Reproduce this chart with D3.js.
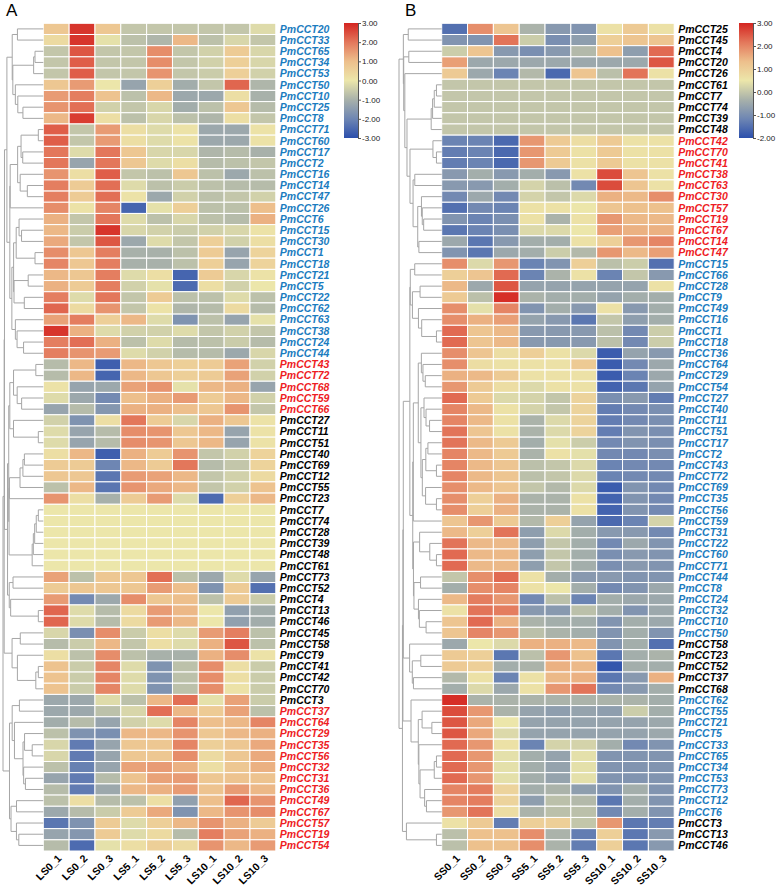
<!DOCTYPE html>
<html>
<head>
<meta charset="utf-8">
<script src="https://d3js.org/d3.v7.min.js"></script>
<style>
  body { margin: 0; background: #fff; }
  text { font-family: "Liberation Sans", Arial, sans-serif; }
</style>
</head>
<body>
<div id="chart"></div>
<script>
// samples (columns)
var colsA = ["LS0_1", "LS0_2", "LS0_3", "LS5_1", "LS5_2", "LS5_3", "LS10_1", "LS10_2", "LS10_3"];
var colsB = ["SS0_1", "SS0_2", "SS0_3", "SS5_1", "SS5_2", "SS5_3", "SS10_1", "SS10_2", "SS10_3"];

// genes (rows), in plotted order
var rowsA = ["PmCCT20","PmCCT33","PmCCT65","PmCCT34","PmCCT53","PmCCT50","PmCCT10","PmCCT25","PmCCT8","PmCCT71",
  "PmCCT60","PmCCT17","PmCCT2","PmCCT16","PmCCT14","PmCCT47","PmCCT26","PmCCT6","PmCCT15","PmCCT30",
  "PmCCT1","PmCCT18","PmCCT21","PmCCT5","PmCCT22","PmCCT62","PmCCT63","PmCCT38","PmCCT24","PmCCT44",
  "PmCCT43","PmCCT72","PmCCT68","PmCCT59","PmCCT66","PmCCT27","PmCCT11","PmCCT51","PmCCT40","PmCCT69",
  "PmCCT12","PmCCT55","PmCCT23","PmCCT7","PmCCT74","PmCCT28","PmCCT39","PmCCT48","PmCCT61","PmCCT73",
  "PmCCT52","PmCCT4","PmCCT13","PmCCT46","PmCCT45","PmCCT58","PmCCT9","PmCCT41","PmCCT42","PmCCT70",
  "PmCCT3","PmCCT37","PmCCT64","PmCCT29","PmCCT35","PmCCT56","PmCCT32","PmCCT31","PmCCT36","PmCCT49",
  "PmCCT67","PmCCT57","PmCCT19","PmCCT54"];
var rowsB = ["PmCCT25","PmCCT45","PmCCT4","PmCCT20","PmCCT26","PmCCT61","PmCCT7","PmCCT74","PmCCT39","PmCCT48",
  "PmCCT42","PmCCT70","PmCCT41","PmCCT38","PmCCT63","PmCCT30","PmCCT57","PmCCT19","PmCCT67","PmCCT14",
  "PmCCT47","PmCCT15","PmCCT66","PmCCT28","PmCCT9","PmCCT49","PmCCT16","PmCCT1","PmCCT18","PmCCT36",
  "PmCCT64","PmCCT29","PmCCT54","PmCCT27","PmCCT40","PmCCT11","PmCCT51","PmCCT17","PmCCT2","PmCCT43",
  "PmCCT72","PmCCT69","PmCCT35","PmCCT56","PmCCT59","PmCCT31","PmCCT22","PmCCT60","PmCCT71","PmCCT44",
  "PmCCT8","PmCCT24","PmCCT32","PmCCT10","PmCCT50","PmCCT58","PmCCT23","PmCCT52","PmCCT37","PmCCT68",
  "PmCCT62","PmCCT55","PmCCT21","PmCCT5","PmCCT33","PmCCT65","PmCCT34","PmCCT53","PmCCT73","PmCCT12",
  "PmCCT6","PmCCT3","PmCCT13","PmCCT46"];

// gene group of each row (1 = blue, 2 = red, 3 = black labels)
var groupA = ("111111111111111111111111111111" + "22222" +
  "33333333333333333333333333" + "2222222222222").split("").map(Number);
var groupB = ("3333333333" + "22222222222" + "1111111111111111111111111111111111" +
  "33333" + "11111111111" + "333").split("").map(Number);

// colour-bar ticks
var ticksA = [3, 2, 1, 0, -1, -2, -3];
var ticksB = [3, 2, 1, 0, -1, -2];

// expression values (z-score), one row per gene
var valuesA = [
  [0.8,2.8,0.8,-0.6,-0.6,-0.6,-0.6,-0.6,-0.2],
  [0.3,2.8,-0.1,-0.7,-0.9,1.1,-0.7,-0.3,-0.6],
  [-0.6,2.4,-0.6,-0.6,1.7,-0.6,-0.4,0.7,-0.3],
  [-0.6,2.3,-0.6,-0.6,1.7,-0.6,-0.4,0.6,-0.3],
  [-0.6,2.3,-0.6,-0.6,1.6,-0.6,-0.5,0.6,-0.4],
  [0.8,1.5,0.0,-1.3,0.6,-1.1,-0.6,2.2,-0.9],
  [1.5,1.9,0.9,-0.7,1.1,-1.2,-1.2,0.2,-1.0],
  [1.6,2.1,-0.4,-0.6,-0.3,-1.1,-0.7,0.8,-0.8],
  [1.1,2.7,0.2,-0.7,-0.3,-0.7,-0.9,0.2,-0.6],
  [2.3,-0.6,1.5,0.2,-0.2,0.1,-1.2,-1.2,0.1],
  [2.3,-0.6,1.5,0.2,-0.2,0.1,-1.2,-1.2,0.1],
  [2.0,-0.2,2.0,0.8,-0.3,-0.3,-0.9,-0.8,-1.0],
  [2.0,-1.3,2.0,0.8,-0.2,0.2,-0.8,-0.7,-0.6],
  [1.6,0.2,2.3,-0.6,-0.7,0.8,-0.7,-1.2,-0.7],
  [1.9,0.7,2.1,-0.2,-0.7,-0.5,-0.7,-0.8,-0.8],
  [1.9,0.7,2.1,0.1,-1.2,-0.4,-0.7,-0.6,-0.4],
  [1.7,0.1,1.8,-2.6,-0.1,0.6,-0.7,-0.7,1.0],
  [1.2,-0.6,2.0,-0.2,-0.7,-0.3,-0.7,-0.8,1.2],
  [1.1,-0.5,2.8,-0.3,-0.4,-0.5,-0.4,-0.3,0.1],
  [1.3,-0.6,2.4,-1.2,-0.2,-0.6,0.6,-0.4,0.2],
  [1.7,0.8,1.9,-1.0,-1.0,-0.7,0.7,-1.3,0.5],
  [1.8,0.8,1.9,-1.0,-1.0,-0.7,0.6,-1.3,0.5],
  [1.1,0.8,1.9,-0.2,0.2,-2.6,0.7,-0.3,0.1],
  [1.2,0.7,1.9,-0.4,-0.1,-2.5,0.2,-0.4,0.0],
  [1.9,-0.2,2.0,-0.6,0.7,-0.7,-0.7,-0.2,-0.7],
  [2.2,0.3,1.6,-0.6,0.1,-0.9,-0.8,0.3,-0.8],
  [1.4,1.9,0.6,1.1,-0.2,-1.7,-0.7,-1.3,-0.1],
  [2.8,1.2,-0.2,-0.4,-0.4,-0.2,-0.6,-0.4,-0.6],
  [1.9,2.1,1.2,-0.7,-0.2,-0.8,-0.7,-0.5,-0.8],
  [1.9,1.6,1.5,-0.2,-0.4,-0.8,-0.8,-1.2,-0.3],
  [-0.8,1.1,-2.7,1.1,0.8,0.6,0.7,1.4,-0.4],
  [-0.8,1.1,-2.6,1.1,0.8,0.6,0.7,1.4,-0.4],
  [0.1,-1.3,-1.2,1.4,1.6,-0.1,1.1,1.2,-1.3],
  [-0.2,-1.2,-1.9,1.0,1.2,1.5,0.7,1.1,-0.4],
  [-1.3,-0.8,-1.6,1.2,1.2,1.0,0.8,1.6,-0.6],
  [-0.4,-1.7,0.2,2.0,0.7,-0.3,1.2,0.8,0.1],
  [-0.2,-1.3,-0.8,1.7,1.6,0.8,1.1,-1.3,0.1],
  [-0.2,-1.3,-0.8,1.7,1.6,0.8,1.1,-1.3,0.1],
  [0.2,1.1,-2.7,1.2,0.7,1.6,-0.6,-0.4,0.5],
  [0.7,0.7,-2.0,1.1,0.7,2.0,-0.8,-0.6,0.5],
  [0.8,0.8,-2.3,1.5,1.4,1.1,-0.6,-0.4,0.3],
  [-0.7,1.1,-2.3,1.6,1.3,1.1,-0.6,-0.4,0.9],
  [1.6,0.2,-1.0,0.7,1.5,-0.2,-2.5,0.6,1.1],
  [0,0,0,0,0,0,0,0,0],
  [0,0,0,0,0,0,0,0,0],
  [0,0,0,0,0,0,0,0,0],
  [0,0,0,0,0,0,0,0,0],
  [0,0,0,0,0,0,0,0,0],
  [0,0,0,0,0,0,0,0,0],
  [1.4,-0.7,0.8,0.8,2.1,-0.7,-1.2,-0.2,-1.3],
  [0.7,0.8,0.8,0.8,1.5,1.0,-1.7,0.7,-2.4],
  [1.5,-1.9,-1.2,1.7,0.8,1.0,-0.7,0.7,-0.5],
  [2.2,-0.2,-0.8,0.3,1.5,1.1,0.0,-1.4,-1.1],
  [2.2,-0.2,-0.8,0.3,1.5,1.1,0.0,-1.4,-1.1],
  [-0.3,-1.8,1.7,-0.5,0.2,-0.2,1.5,1.9,-0.7],
  [-0.8,-0.5,1.1,-0.6,0.2,-0.2,1.2,2.4,-0.7],
  [0.2,-0.7,1.7,-0.7,-1.0,-1.0,1.2,1.7,0.1],
  [0.9,-0.5,1.8,-0.2,-1.7,-0.7,1.7,0.2,-0.5],
  [0.9,-0.5,1.8,-0.2,-1.7,-0.7,1.7,0.2,-0.5],
  [0.9,-0.5,1.8,-0.2,-1.7,-0.7,1.7,0.1,-0.5],
  [-1.2,-1.2,-0.2,-0.7,1.1,2.1,-0.1,1.4,-0.5],
  [-1.2,-1.2,-0.7,-0.3,2.1,1.1,0.7,1.4,-0.7],
  [-1.1,-0.8,-1.3,-0.4,-0.2,1.8,1.0,1.1,1.8],
  [-0.7,-1.7,-1.8,1.1,1.1,1.6,0.8,1.1,1.2],
  [-0.3,-2.2,-1.3,0.8,0.8,1.8,0.6,0.8,1.3],
  [-0.3,-2.2,-1.3,0.8,0.8,1.7,0.3,0.8,1.3],
  [-0.7,-2.1,-1.3,1.4,1.5,1.2,0.2,0.8,1.2],
  [-1.3,-2.2,-0.8,0.9,1.4,1.5,0.8,0.9,0.9],
  [-0.8,-2.2,-1.2,1.1,1.2,1.5,0.9,1.5,1.1],
  [-0.7,0.2,-0.8,-0.7,0.2,-1.4,1.0,2.2,1.6],
  [-1.2,-0.8,-0.5,0.7,1.3,-1.7,1.1,1.6,1.7],
  [-2.3,-1.7,0.7,-0.2,0.6,1.1,1.6,1.2,0.7],
  [-1.3,-1.6,0.7,-0.2,0.3,-0.8,1.9,1.4,1.2],
  [-0.8,-2.5,-0.1,0.2,0.6,0.3,1.6,1.1,1.5]
];

var valuesB = [
  [-1.5,1.9,1.2,-0.3,-0.8,-0.9,0.6,1.1,0.6],
  [-0.9,-0.9,2.2,0.1,-1.0,-0.7,1.0,1.2,1.2],
  [0.1,1.2,-0.8,-1.0,-0.8,-0.2,1.3,-0.7,2.3],
  [1.7,-0.5,-0.5,-0.5,-0.5,-0.5,-0.5,-0.5,2.5],
  [1.1,-0.5,-1.2,-0.2,-1.6,1.2,-0.1,2.2,0.6],
  [0,0,0,0,0,0,0,0,0],
  [0,0,0,0,0,0,0,0,0],
  [0,0,0,0,0,0,0,0,0],
  [0,0,0,0,0,0,0,0,0],
  [0,0,0,0,0,0,0,0,0],
  [-1.2,-1.2,-1.6,1.8,1.1,0.7,1.1,0.6,0.6],
  [-1.3,-1.2,-1.6,1.8,1.1,0.6,1.1,0.6,0.6],
  [-1.3,-1.2,-1.6,1.8,1.1,0.6,1.1,0.6,0.6],
  [-0.8,-0.4,-0.8,-0.4,-0.8,0.6,2.6,1.2,0.6],
  [-0.8,-0.8,-0.4,0.2,-0.1,-1.1,2.6,1.2,0.6],
  [-1.1,-0.5,-1.1,0.2,0.0,0.3,1.5,1.4,1.9],
  [-1.5,-1.1,-1.2,0.6,0.6,0.5,1.2,1.3,1.3],
  [-0.9,-1.2,-1.0,0.6,-0.3,0.6,1.8,1.4,1.4],
  [-1.4,-1.2,-1.0,0.3,0.3,0.5,1.7,1.5,1.5],
  [-0.5,-1.4,-0.8,-0.4,-0.4,0.6,1.0,1.8,2.0],
  [-0.9,-1.4,-0.5,-0.4,0.1,-0.2,1.8,1.4,1.7],
  [1.9,0.3,1.8,-1.2,-0.9,1.0,-0.1,0.1,-1.5],
  [1.0,1.2,2.3,-1.2,-0.3,0.6,-1.2,0.0,-0.8],
  [1.4,-0.5,2.5,-0.6,-0.6,-0.6,-0.6,-0.6,0.6],
  [1.1,-0.1,2.9,-0.3,-0.4,-0.4,-0.6,-0.4,-0.4],
  [1.9,0.4,2.0,-0.9,-0.4,-0.8,0.6,-0.8,-0.4],
  [1.9,1.5,1.7,-0.6,-0.8,-1.4,0.0,-0.7,-0.4],
  [2.3,1.2,1.4,-0.8,-0.8,-0.8,-0.1,-1.1,0.1],
  [2.3,1.2,1.4,-0.8,-0.8,-0.8,-0.1,-1.1,0.1],
  [1.9,1.2,0.7,1.0,0.6,0.3,-1.8,-0.6,-0.8],
  [1.9,0.7,0.6,0.6,0.6,1.1,-1.8,-1.1,-0.5],
  [1.5,1.4,1.1,0.6,0.6,0.6,-1.8,-1.2,-0.5],
  [1.8,1.1,0.7,0.3,0.6,0.6,-1.7,-1.4,-0.6],
  [2.3,1.1,0.3,0.2,0.0,0.9,-1.0,-0.8,-1.3],
  [2.0,1.4,0.6,0.2,0.0,0.9,-1.3,-1.1,-1.0],
  [2.0,1.4,0.6,-0.3,0.3,0.9,-1.3,-1.1,-1.0],
  [2.2,1.2,0.6,-0.3,0.3,0.9,-1.3,-0.9,-1.0],
  [2.2,1.4,1.1,-0.4,0.4,0.1,-1.1,-0.9,-1.0],
  [2.0,1.4,1.1,-0.3,0.6,0.4,-1.1,-1.1,-1.0],
  [2.0,1.4,1.2,-0.1,0.0,0.3,-1.2,-1.1,-1.1],
  [2.0,1.4,1.2,-0.1,0.0,0.3,-1.2,-1.1,-1.1],
  [1.9,1.4,1.2,0.0,-0.2,0.3,-1.8,-0.9,-1.1],
  [1.9,1.0,1.5,-0.3,-0.3,0.6,-1.7,-0.9,-1.1],
  [1.9,1.0,1.5,-0.3,-0.3,0.6,-1.7,-0.9,-1.1],
  [1.2,1.8,1.1,-0.2,1.0,-0.6,-1.6,-1.2,0.2],
  [1.4,1.0,2.2,-0.7,0.3,-0.4,-0.8,-0.8,-1.1],
  [2.2,1.4,1.4,-0.7,0.0,-0.4,-1.1,-0.5,-0.9],
  [2.3,1.4,1.4,-0.7,0.0,-0.4,-1.0,-0.8,-0.9],
  [2.3,1.4,1.4,-0.7,0.0,-0.4,-1.0,-0.8,-0.9],
  [0.0,1.9,2.3,0.6,-0.4,-0.8,-0.8,-0.9,-0.9],
  [-0.4,1.9,2.0,0.6,0.5,-0.4,-1.1,-0.9,-0.5],
  [1.4,2.1,1.8,-1.1,-0.1,-1.2,-0.4,-0.5,-0.5],
  [0.6,2.2,2.1,-0.8,-0.8,-0.1,-0.4,-0.9,-0.5],
  [1.2,2.3,1.5,-0.3,-0.4,-0.4,-0.9,-0.4,-0.5],
  [1.2,2.0,1.8,-0.1,-0.3,-0.4,-0.9,-0.4,-0.9],
  [-0.5,0.5,0.3,1.5,1.5,1.4,-0.9,-0.4,-1.5],
  [1.1,1.0,-1.4,-0.1,1.8,1.3,-1.4,-0.4,-0.3],
  [1.1,1.0,-0.4,-0.3,1.5,1.4,-1.9,-0.4,-0.4],
  [-0.2,0.6,-1.2,0.6,1.4,1.5,-1.4,-0.8,1.5],
  [-0.4,0.3,-0.5,0.6,1.8,2.2,-1.1,-0.8,-0.4],
  [2.9,-0.3,-0.3,-0.3,-0.3,-0.3,-0.3,-0.3,-0.4],
  [2.6,1.8,-0.3,-0.6,-0.7,-0.6,-0.7,0.1,-0.4],
  [2.5,1.6,0.5,-0.6,-0.6,-0.6,-0.6,-0.6,-0.5],
  [2.5,1.6,0.3,-0.6,-0.6,-0.6,-0.6,-0.6,-0.5],
  [2.3,1.8,0.6,-1.2,0.2,0.2,-0.4,-1.1,-0.9],
  [2.3,1.8,0.4,-0.4,-0.6,0.4,-0.9,-0.9,-0.9],
  [2.3,1.8,0.4,-0.4,-0.6,0.4,-0.9,-0.9,-0.9],
  [2.3,1.8,0.4,-0.4,-0.6,0.4,-0.9,-0.9,-0.9],
  [2.0,2.1,0.9,-0.4,-0.3,-0.7,-0.9,-0.4,-0.9],
  [2.0,2.1,0.9,-0.7,-0.1,-0.2,-1.4,-0.4,-0.9],
  [1.8,2.2,0.7,-0.3,-0.1,-0.1,-1.1,-0.4,-0.9],
  [0.6,1.1,-1.3,1.0,1.0,0.0,1.8,-1.4,-1.3],
  [-0.1,1.3,1.3,1.9,-0.3,-1.3,1.0,-1.4,-0.8],
  [-0.1,1.3,1.3,1.9,-0.3,-1.3,1.0,-1.4,-0.8]
];

var svgWidth = 780;
var svgHeight = 888;

var svg = d3.select("#chart")
  .append("svg")
  .attr("width", svgWidth)
  .attr("height", svgHeight);

// colour ramp (blue - grey - pale yellow - orange - red)
var ramp = ["#2b4fac", "#6e86b3", "#a8b1aa", "#ece6aa", "#edbf8c", "#e3775b", "#d42420"];
var groupColor = {1: "#1b7cc0", 2: "#ee1c24", 3: "#000000"};

var top0 = 23.3, bottom0 = 851;

// adjacent-constrained average-linkage clustering, keeps the plotted order
function buildTree(vals) {
  var D = vals.map(a => vals.map(b => Math.sqrt(d3.sum(a, (v, k) => (v - b[k]) * (v - b[k])))));
  var clusters = vals.map((v, i) => ({ idx: [i], h: 0, pos: i }));
  while (clusters.length > 1) {
    var best = -1, bestD = Infinity;
    for (var j = 0; j < clusters.length - 1; j++) {
      var a = clusters[j], b = clusters[j + 1], s = 0;
      a.idx.forEach(p => b.idx.forEach(q => { s += D[p][q]; }));
      var d = s / (a.idx.length * b.idx.length);
      if (d < bestD) { bestD = d; best = j; }
    }
    var c1 = clusters[best], c2 = clusters[best + 1];
    var node = {
      idx: c1.idx.concat(c2.idx),
      h: Math.max(bestD, c1.h, c2.h) + 0.08,
      pos: (c1.pos + c2.pos) / 2,
      children: [c1, c2]
    };
    clusters.splice(best, 2, node);
  }
  return clusters[0];
}

function drawPanel(opt) {
  var g = svg.append("g");

  var xScale = d3.scaleBand()
    .domain(opt.cols)
    .range([opt.x0, opt.x1]);

  var yScale = d3.scaleBand()
    .domain(opt.rows)
    .range([top0, bottom0]);

  var stops = d3.range(ramp.length).map(i => opt.min + i * (opt.max - opt.min) / (ramp.length - 1));
  var color = d3.scaleLinear()
    .domain(stops)
    .range(ramp)
    .clamp(true);

  // cells
  var cells = [];
  opt.values.forEach(function(row, i) {
    row.forEach(function(v, j) {
      cells.push({ gene: opt.rows[i], sample: opt.cols[j], value: v });
    });
  });

  g.selectAll("rect.cell")
    .data(cells)
    .enter()
    .append("rect")
    .attr("class", "cell")
    .attr("x", d => xScale(d.sample))
    .attr("y", d => yScale(d.gene))
    .attr("width", xScale.bandwidth())
    .attr("height", yScale.bandwidth())
    .attr("fill", d => color(d.value))
    .attr("stroke", "#ffffff")
    .attr("stroke-width", 1);

  // row labels
  g.selectAll("text.gene")
    .data(opt.rows)
    .enter()
    .append("text")
    .attr("class", "gene")
    .attr("x", opt.x1 + 4)
    .attr("y", d => yScale(d) + yScale.bandwidth() / 2)
    .attr("dy", "0.36em")
    .style("font-size", "10.5px")
    .style("font-weight", "bold")
    .style("font-style", "italic")
    .attr("fill", (d, i) => groupColor[opt.groups[i]])
    .text(d => d);

  // column labels
  g.selectAll("text.sample")
    .data(opt.cols)
    .enter()
    .append("text")
    .attr("class", "sample")
    .attr("transform", d => `translate(${xScale(d) + xScale.bandwidth() / 2 + 6}, ${bottom0 + 8}) rotate(-45)`)
    .style("text-anchor", "end")
    .style("font-size", "10.5px")
    .style("font-weight", "bold")
    .text(d => d);

  // panel letter
  g.append("text")
    .attr("x", opt.letterX)
    .attr("y", 16)
    .style("font-size", "17px")
    .text(opt.letter);

  // dendrogram
  var tree = buildTree(opt.values);
  var hx = d3.scaleSqrt()
    .domain([0, tree.h])
    .range([opt.x0, opt.treeLeft]);
  var rowY = p => top0 + (p + 0.5) * yScale.step();
  var lines = [];
  (function walk(node) {
    if (!node.children) return;
    var x = hx(node.h);
    lines.push([x, rowY(node.children[0].pos), x, rowY(node.children[1].pos)]);
    node.children.forEach(function(c) {
      lines.push([x, rowY(c.pos), hx(c.h), rowY(c.pos)]);
      walk(c);
    });
  })(tree);

  g.selectAll("line.dendro")
    .data(lines)
    .enter()
    .append("line")
    .attr("class", "dendro")
    .attr("x1", d => d[0])
    .attr("y1", d => d[1])
    .attr("x2", d => d[2])
    .attr("y2", d => d[3])
    .attr("stroke", "#a6a6a6")
    .attr("stroke-width", 1);

  // colour bar
  var gradId = "grad" + opt.letter;
  var grad = svg.append("defs")
    .append("linearGradient")
    .attr("id", gradId)
    .attr("x1", 0).attr("y1", 1).attr("x2", 0).attr("y2", 0);
  ramp.forEach(function(c, i) {
    grad.append("stop")
      .attr("offset", i / (ramp.length - 1))
      .attr("stop-color", c);
  });

  var barScale = d3.scaleLinear()
    .domain([opt.min, opt.max])
    .range([138, 23]);

  g.append("rect")
    .attr("x", opt.barX)
    .attr("y", 23)
    .attr("width", 14)
    .attr("height", 115)
    .attr("fill", `url(#${gradId})`);

  var barAxis = d3.axisRight(barScale)
    .tickValues(opt.ticks)
    .tickSize(3)
    .tickFormat(v => v.toFixed(2));

  g.append("g")
    .attr("transform", `translate(${opt.barX + 14}, 0)`)
    .call(barAxis)
    .call(a => a.selectAll("path, line").attr("stroke", "#555"))
    .call(a => a.selectAll("text").style("font-size", "8px").attr("fill", "#222").attr("x", 4));
}

drawPanel({
  letter: "A", letterX: 6, cols: colsA, rows: rowsA, values: valuesA, groups: groupA,
  x0: 43.3, x1: 275.8, treeLeft: 3, min: -3, max: 3, ticks: ticksA, barX: 344
});

drawPanel({
  letter: "B", letterX: 405, cols: colsB, rows: rowsB, values: valuesB, groups: groupB,
  x0: 441.7, x1: 674.2, treeLeft: 399, min: -2, max: 3, ticks: ticksB, barX: 739
});
</script>
</body>
</html>
